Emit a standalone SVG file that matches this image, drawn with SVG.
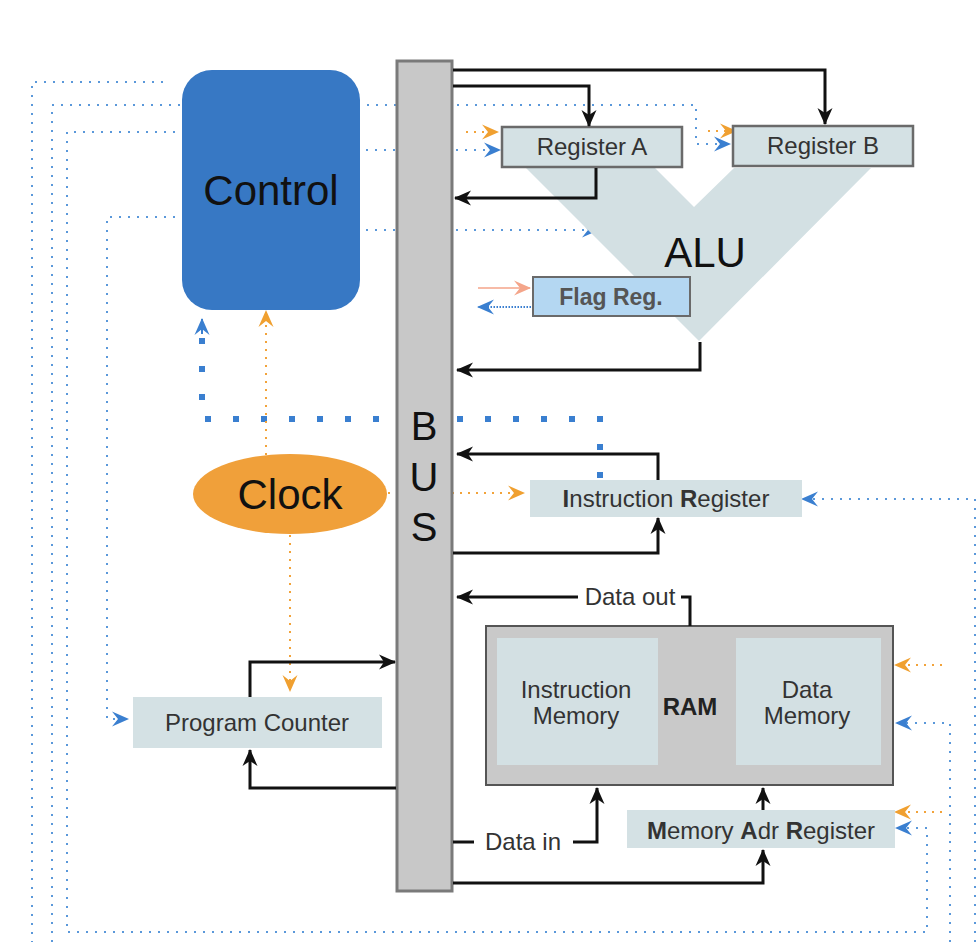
<svg xmlns="http://www.w3.org/2000/svg" width="980" height="942" viewBox="0 0 980 942">
<defs>
<style>
.t{font-family:"Liberation Sans",Arial,Helvetica,sans-serif;font-size:24px;fill:#333;text-anchor:middle}
.big{font-size:42px;fill:#111}
.b{font-weight:bold}
.blk{fill:none;stroke:#111;stroke-width:3}
.bd{fill:none;stroke:#5a98da;stroke-width:2;stroke-dasharray:2 7}
.od{fill:none;stroke:#f2a33a;stroke-width:2;stroke-dasharray:2 6}
.box{fill:#d4e1e4}
</style>
<marker id="ab" markerWidth="17" markerHeight="17" refX="16" refY="8.5" orient="auto" markerUnits="userSpaceOnUse"><path d="M0,1 L17,8.5 L0,16 L5,8.5 z" fill="#111"/></marker>
<marker id="ablue" markerWidth="17" markerHeight="17" refX="16" refY="8.5" orient="auto" markerUnits="userSpaceOnUse"><path d="M0,1 L17,8.5 L0,16 L6,8.5 z" fill="#3a7fd0"/></marker>
<marker id="aor" markerWidth="17" markerHeight="17" refX="16" refY="8.5" orient="auto" markerUnits="userSpaceOnUse"><path d="M0,1 L17,8.5 L0,16 L6,8.5 z" fill="#f0a030"/></marker>
<marker id="asal" markerWidth="17" markerHeight="17" refX="16" refY="8.5" orient="auto" markerUnits="userSpaceOnUse"><path d="M0,1 L17,8.5 L0,16 L6,8.5 z" fill="#f4a58a"/></marker>
</defs>
<rect width="980" height="942" fill="#fff"/>

<g id="signals">
<path class="bd" d="M163,82 L32,82 L32,942"/>
<path class="bd" d="M52,942 L52,105 L696,105 L696,144 L730,144" marker-end="url(#ablue)"/>
<path class="bd" d="M220,132 L67,132 L67,932 L927,932 L927,828 L896,828" marker-end="url(#ablue)"/>
<path class="bd" d="M220,217 L107,217 L107,719 L128,719" marker-end="url(#ablue)"/>
<path class="bd" d="M330,150 L500,150" marker-end="url(#ablue)"/>
<path class="bd" d="M330,230 L598,230" marker-end="url(#ablue)"/>
<path class="bd" d="M950,942 L950,723 L896,723" marker-end="url(#ablue)"/>
<path class="bd" d="M975,942 L975,499 L802,499" marker-end="url(#ablue)"/>
<path fill="none" stroke="#3a7fd0" stroke-width="6" stroke-dasharray="6 22" d="M600,478 L600,419 L202,419 L202,322"/>
<path fill="none" stroke="#3a7fd0" stroke-width="2" d="M202,334 L202,319" marker-end="url(#ablue)"/>
<path fill="none" stroke="#3a7fd0" stroke-width="2" stroke-dasharray="1.5 1.5" d="M531,307 L478,307" marker-end="url(#ablue)"/>
<path fill="none" stroke="#f4a58a" stroke-width="1.6" d="M478,288 L530,288" marker-end="url(#asal)"/>
<path class="od" d="M466,132 L498,132" marker-end="url(#aor)"/>
<path class="od" d="M708,131 L736,131" marker-end="url(#aor)"/>
<path class="od" d="M380,493 L524,493" marker-end="url(#aor)"/>
<path class="od" d="M266,455 L266,311" marker-end="url(#aor)"/>
<path class="od" d="M290,535 L290,691" marker-end="url(#aor)"/>
<path class="od" d="M942,665 L895,665" marker-end="url(#aor)"/>
<path class="od" d="M942,812 L895,812" marker-end="url(#aor)"/>
</g>

<g id="alu">
<polygon points="526,168 655,168 694,207 734,168 871,168 699,341" fill="#d3e0e3"/>
<text class="t big" x="705" y="267">ALU</text>
</g>

<g id="control">
<rect x="182" y="70" width="178" height="240" rx="30" fill="#3778c4"/>
<text class="t big" x="271" y="205">Control</text>
</g>

<g id="bus">
<rect x="397" y="61" width="55" height="830" fill="#c8c8c8" stroke="#7a7a7a" stroke-width="3"/>
<text class="t big" x="424" y="440" style="font-size:40px">B</text>
<text class="t big" x="424" y="491" style="font-size:40px">U</text>
<text class="t big" x="424" y="541" style="font-size:40px">S</text>
</g>

<g id="registerA">
<rect class="box" x="502" y="127" width="180" height="40" stroke="#6a6a6a" stroke-width="2.5"/>
<text class="t" x="592" y="155">Register A</text>
</g>

<g id="registerB">
<rect class="box" x="733" y="126" width="180" height="40" stroke="#6a6a6a" stroke-width="2.5"/>
<text class="t" x="823" y="154">Register B</text>
</g>

<g id="flagReg">
<rect x="533" y="277" width="157" height="39" fill="#b4d7f2" stroke="#6a6a6a" stroke-width="2"/>
<text class="t b" x="611" y="305" style="font-size:23px;fill:#555">Flag Reg.</text>
</g>

<g id="clock">
<ellipse cx="290" cy="494" rx="97" ry="40" fill="#f0a03a"/>
<text class="t big" x="290" y="509">Clock</text>
</g>

<g id="instructionRegister">
<rect class="box" x="530" y="480" width="272" height="37"/>
<text class="t" x="666" y="507"><tspan class="b">I</tspan>nstruction <tspan class="b">R</tspan>egister</text>
</g>

<g id="programCounter">
<rect class="box" x="133" y="697" width="249" height="51"/>
<text class="t" x="257" y="731">Program Counter</text>
</g>

<g id="ram">
<rect x="486" y="626" width="407" height="159" fill="#c9c9c9" stroke="#555" stroke-width="2"/>
<rect x="497" y="638" width="161" height="127" fill="#d3e0e3"/>
<rect x="736" y="638" width="145" height="127" fill="#d3e0e3"/>
<text class="t" x="576" y="698">Instruction</text>
<text class="t" x="576" y="724">Memory</text>
<text class="t" x="807" y="698">Data</text>
<text class="t" x="807" y="724">Memory</text>
<text class="t b" x="690" y="715" style="fill:#222">RAM</text>
</g>

<g id="memoryAdrRegister">
<rect class="box" x="627" y="810" width="268" height="38"/>
<text class="t" x="761" y="839"><tspan class="b">M</tspan>emory <tspan class="b">A</tspan>dr <tspan class="b">R</tspan>egister</text>
</g>

<g id="connectors">
<path class="blk" d="M453,70 L825,70 L825,124" marker-end="url(#ab)"/>
<path class="blk" d="M453,86 L589,86 L589,126" marker-end="url(#ab)"/>
<path class="blk" d="M596,168 L596,198 L455,198" marker-end="url(#ab)"/>
<path class="blk" d="M700,342 L700,370 L457,370" marker-end="url(#ab)"/>
<path class="blk" d="M658,480 L658,454 L457,454" marker-end="url(#ab)"/>
<path class="blk" d="M453,553 L658,553 L658,518" marker-end="url(#ab)"/>
<path class="blk" d="M690,626 L690,597 L681,597"/>
<path class="blk" d="M578,597 L457,597" marker-end="url(#ab)"/>
<text class="t" x="630" y="605">Data out</text>
<path class="blk" d="M453,842 L474,842"/>
<text class="t" x="523" y="850">Data in</text>
<path class="blk" d="M573,842 L597,842 L597,788" marker-end="url(#ab)"/>
<path class="blk" d="M763,810 L763,788" marker-end="url(#ab)"/>
<path class="blk" d="M453,883 L763,883 L763,850" marker-end="url(#ab)"/>
<path class="blk" d="M250,697 L250,662 L395,662" marker-end="url(#ab)"/>
<path class="blk" d="M396,788 L250,788 L250,750" marker-end="url(#ab)"/>
</g>
</svg>
